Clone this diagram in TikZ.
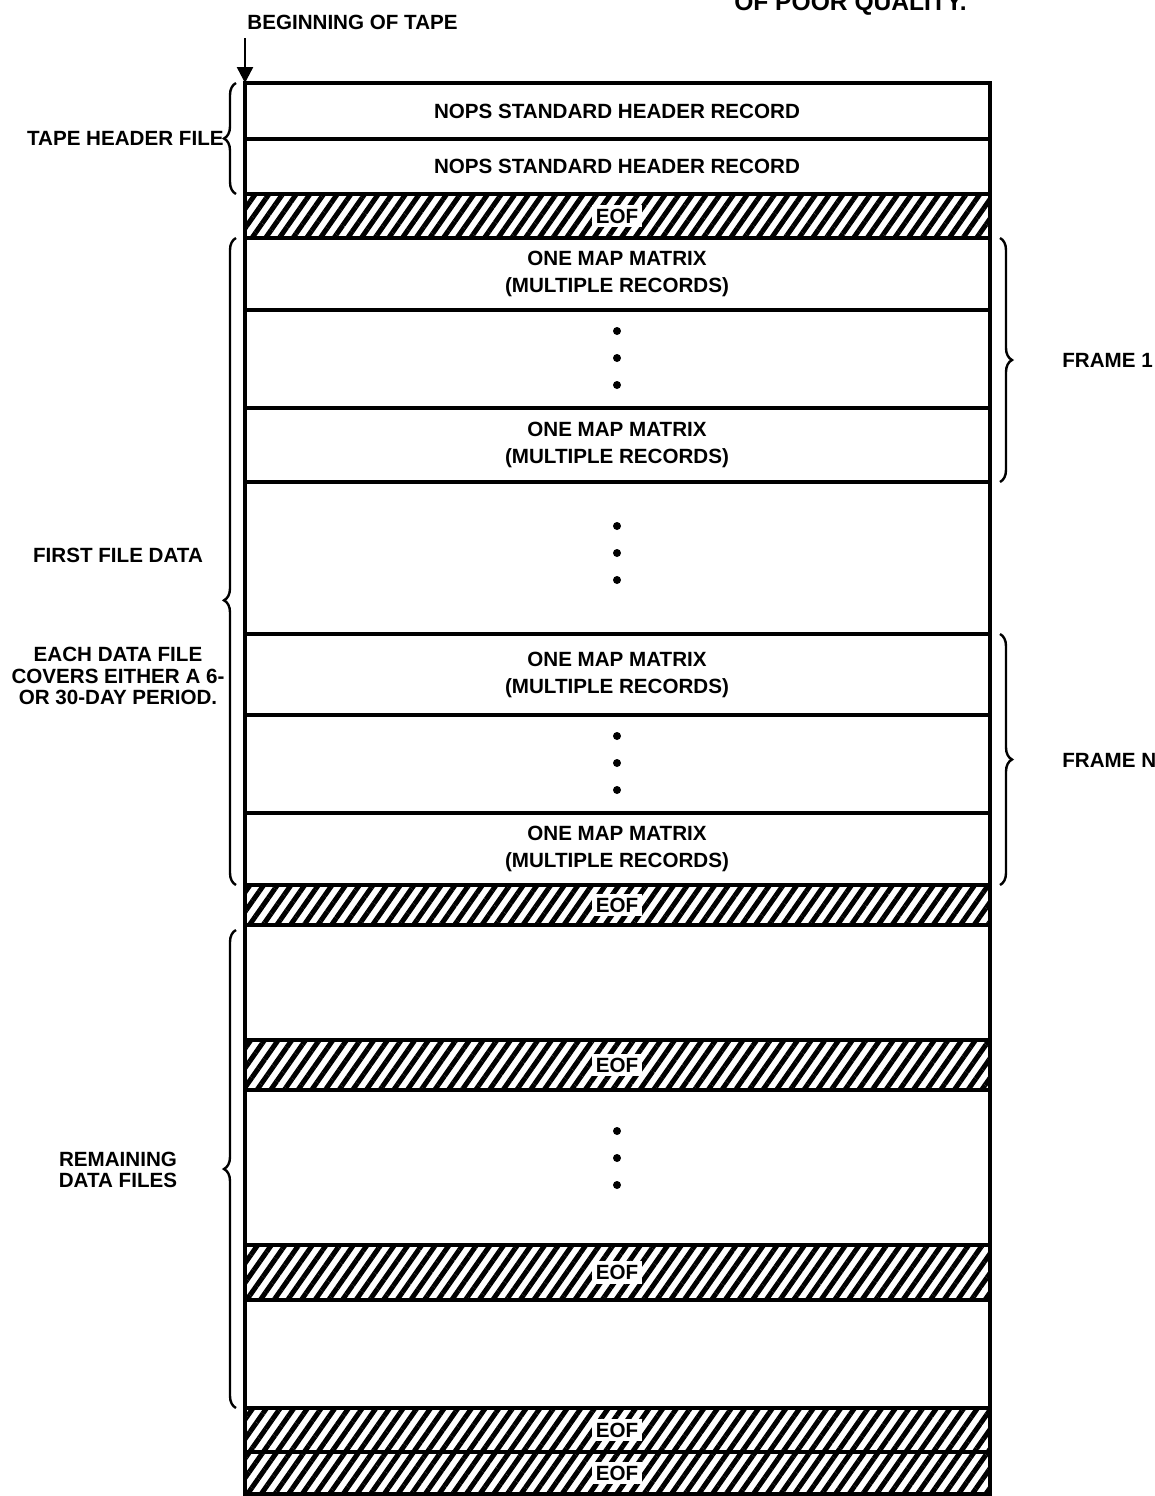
\documentclass[tikz,border=0pt]{standalone}
\usepackage{fontspec}
\setmainfont{Liberation Sans}
\usetikzlibrary{calc, arrows.meta, patterns.meta, decorations.pathreplacing}

\begin{document}
\begin{tikzpicture}[x=0.5pt, y=-0.5pt, >={Triangle[length=8pt, width=8pt]},
    lbl/.style={font=\bfseries\fontsize{10.3}{13.5}\selectfont, align=center, inner sep=0pt},
    side/.style={font=\bfseries\fontsize{10.3}{10.8}\selectfont, align=center, inner sep=0pt},
    eof/.style={pattern={Lines[angle=55, distance=5.6pt, line width=2.5pt]}},
    rule/.style={line width=1.7pt},
    brc/.style={decorate, decoration={brace, amplitude=6pt}, line width=1.2pt}]
    \def\L{245}
    \def\R{990}
    \def\M{617}

    \useasboundingbox (0,0) rectangle (1155,1496);

    % stamp, cut by the page edge
    \node[font=\bfseries\fontsize{12.3}{14}\selectfont, anchor=base east, inner sep=0pt] (stamp) at (967,10) {OF POOR QUALITY.};

    % hatched EOF bands
    \foreach \a/\b [count=\i] in {194/238, 885/925, 1040/1090, 1245/1300, 1408/1452, 1452/1494} {
        \draw[eof, rule] (\L,\a) rectangle (\R,\b);
        \node[lbl, fill=white, inner sep=2pt] (eof\i) at (\M,{(\a+\b)/2}) {EOF};
    }

    % tape outline and record lines
    \draw[rule] (\L,83) rectangle (\R,1494);
    \foreach \y in {139, 310, 408, 482, 634, 715, 813}
        \draw[rule] (\L,\y) -- (\R,\y);

    \coordinate (top) at (\L,83);
    \node[side, anchor=west] (bot) at (247,22) {BEGINNING OF TAPE};
    \coordinate (arr) at (\L,38);
    \draw[->, line width=1.2pt] (arr) -- (top);

    % records
    \node[lbl] (hdr1) at (\M,111) {NOPS STANDARD HEADER RECORD};
    \node[lbl] (hdr2) at (\M,166) {NOPS STANDARD HEADER RECORD};
    \foreach \y [count=\i] in {274, 445, 675, 849}
        \node[lbl] (map\i) at (\M,\y) {ONE MAP MATRIX\\(MULTIPLE RECORDS)};

    % dots
    \foreach \c in {358, 553, 763, 1158}
        \foreach \d in {-27, 0, 27}
            \fill (\M,\c+\d) circle (2pt);

    % braces, left
    \draw[brc] (236,194) -- (236,83);
    \draw[brc, decoration={aspect=0.44}] (236,885) -- (236,238);
    \draw[brc] (236,1408) -- (236,930);
    \node[side, anchor=east] (thf) at (224,138) {TAPE HEADER FILE};
    \node[side] (ffd) at (118,555) {FIRST FILE DATA};
    \node[side] (each) at (118,676) {EACH DATA FILE\\COVERS EITHER A 6-\\OR 30-DAY PERIOD.};
    \node[side] (rem) at (118,1170) {REMAINING\\DATA FILES};

    % braces, right
    \draw[brc] (1000,238) -- (1000,482);
    \draw[brc] (1000,634) -- (1000,885);
    \node[side, anchor=west] (fr1) at (1062,360) {FRAME 1};
    \node[side, anchor=west] (frn) at (1062,760) {FRAME N};
\end{tikzpicture}
\end{document}
